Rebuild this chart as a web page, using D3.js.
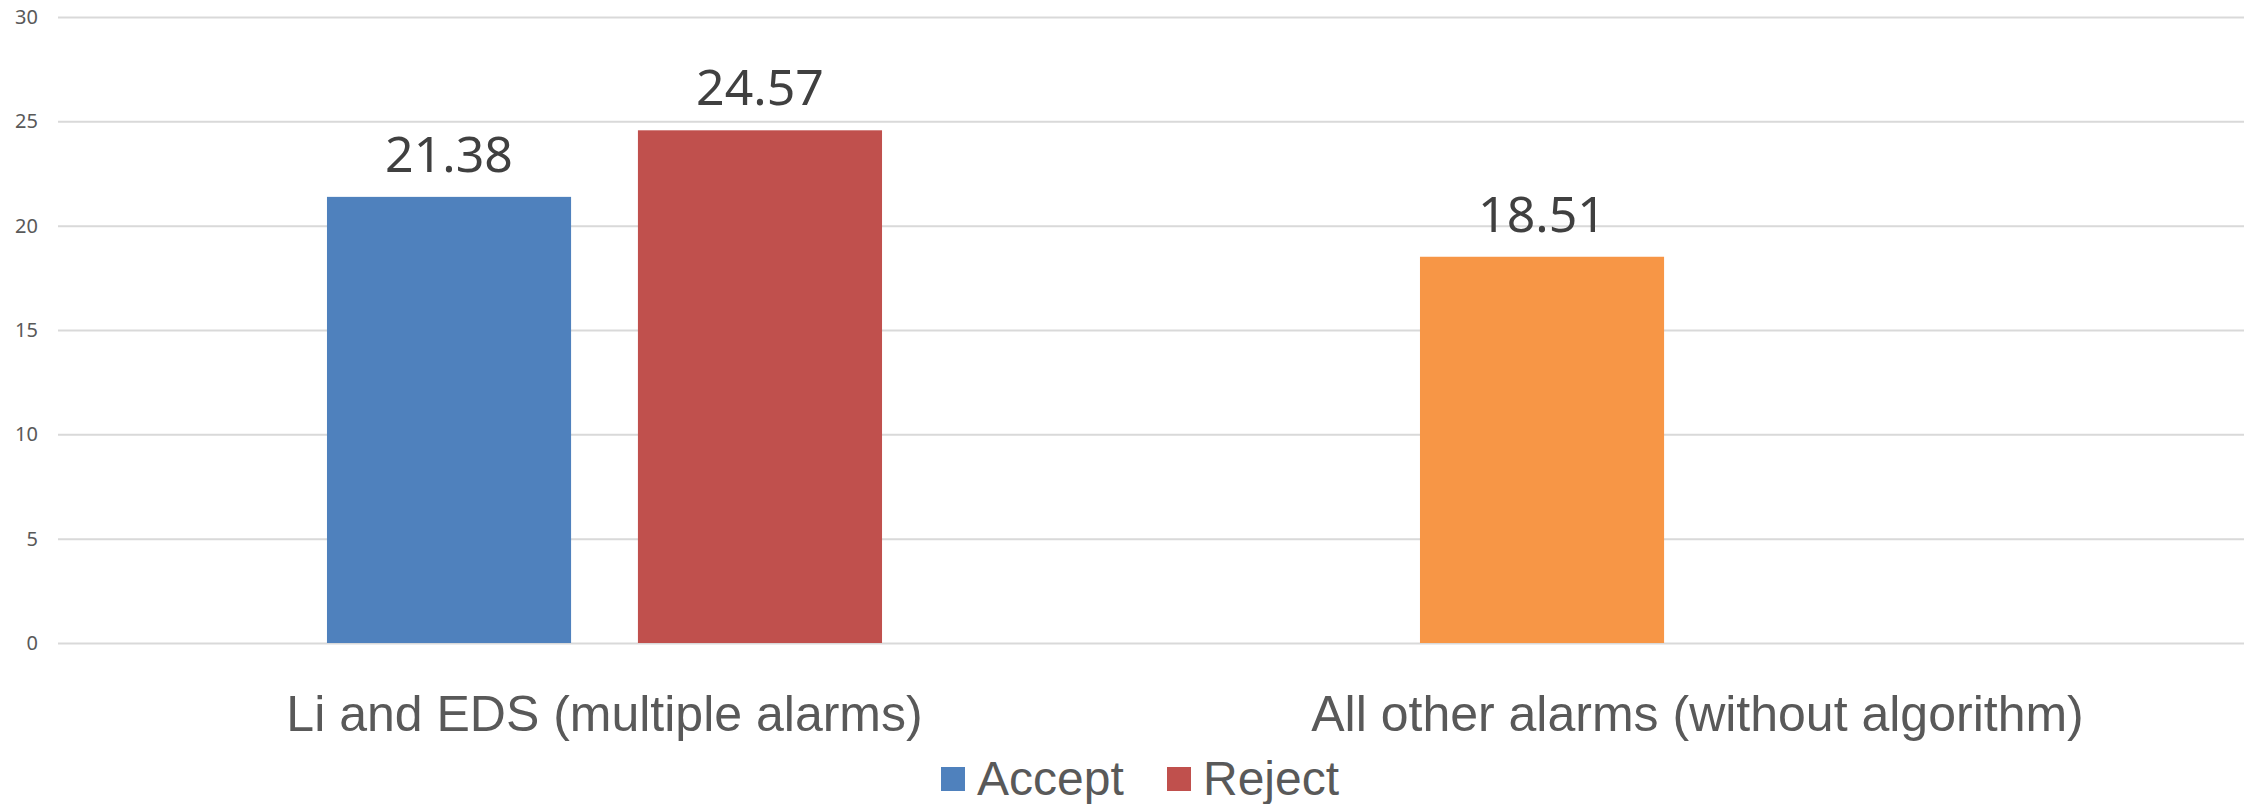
<!DOCTYPE html>
<html>
<head>
<meta charset="utf-8">
<script src="https://cdn.jsdelivr.net/npm/d3@7/dist/d3.min.js"></script>
<style>
  body { margin: 0; background: #fff; }
  svg { display: block; }
</style>
</head>
<body>
<div id="chart"></div>
<script>
// Data
const categories = ['Li and EDS (multiple alarms)', 'All other alarms (without algorithm)']
const seriesNames = ['Accept', 'Reject']
const acceptValues = [21.38, 18.51]
const rejectValues = [24.57, null]
const yTicks = [0, 5, 10, 15, 20, 25, 30]

const seriesColors = { Accept: '#4f81bd', Reject: '#c0504d' }
// the second Accept bar has its own point colour
const pointColors = { 'Accept|All other alarms (without algorithm)': '#f79646' }

const width = 2244,
  height = 804,
  margin = { top: 17, right: 0, bottom: 161, left: 58 }

const rows = categories.map((cat, i) => ({
  category: cat,
  values: [
    { series: 'Accept', value: acceptValues[i] },
    { series: 'Reject', value: rejectValues[i] }
  ].filter(d => d.value != null)
}))

const svg = d3
  .select('#chart')
  .append('svg')
  .attr('width', width)
  .attr('height', height)

const x0 = d3
  .scaleBand()
  .domain(categories)
  .range([margin.left, width - margin.right])

const x1 = d3
  .scaleBand()
  .domain(seriesNames)
  .range([0, x0.bandwidth()])
  .paddingInner(0.215)
  .paddingOuter(0.865)

const y = d3
  .scaleLinear()
  .domain([0, 30])
  .range([height - margin.bottom, margin.top])

// gridlines
svg
  .append('g')
  .attr('class', 'grid')
  .attr('transform', 'translate(' + margin.left + ',0)')
  .call(
    d3
      .axisLeft(y)
      .tickValues(yTicks)
      .tickSize(-(width - margin.left - margin.right))
      .tickFormat('')
  )
  .call(g => g.select('.domain').remove())
  .call(g => g.selectAll('line').attr('stroke', '#d9d9d9').attr('stroke-width', 2))

// y labels
svg
  .append('g')
  .selectAll('text')
  .data(yTicks)
  .enter()
  .append('text')
  .attr('x', 38)
  .attr('y', d => y(d))
  .attr('dy', '0.35em')
  .attr('text-anchor', 'end')
  .style('font-family', '"Noto Sans", sans-serif')
  .style('font-size', '20px')
  .attr('fill', '#595959')
  .text(d => d)

// bars
const groups = svg
  .append('g')
  .selectAll('g')
  .data(rows)
  .enter()
  .append('g')
  .attr('transform', d => 'translate(' + x0(d.category) + ',0)')

groups
  .selectAll('rect')
  .data(d => d.values.map(v => ({ ...v, category: d.category })))
  .enter()
  .append('rect')
  .attr('x', d => x1(d.series))
  .attr('width', x1.bandwidth())
  .attr('y', d => y(d.value))
  .attr('height', d => y(0) - y(d.value))
  .attr('fill', d => pointColors[d.series + '|' + d.category] || seriesColors[d.series])

groups
  .selectAll('text')
  .data(d => d.values)
  .enter()
  .append('text')
  .attr('x', d => x1(d.series) + x1.bandwidth() / 2)
  .attr('y', d => y(d.value) - 25)
  .attr('text-anchor', 'middle')
  .style('font-family', '"Noto Sans", sans-serif')
  .style('font-size', '50px')
  .attr('fill', '#404040')
  .text(d => d3.format('.2f')(d.value))

// category labels
svg
  .append('g')
  .selectAll('text')
  .data(categories)
  .enter()
  .append('text')
  .attr('x', d => x0(d) + x1('Accept') + x1.step() - (x1.step() - x1.bandwidth()) / 2)
  .attr('y', 731)
  .attr('text-anchor', 'middle')
  .style('font-family', '"Liberation Sans", Arial, sans-serif')
  .style('font-size', '50px')
  .attr('fill', '#595959')
  .text(d => d)

// legend
const legend = svg.append('g').attr('transform', 'translate(941,0)')
const legendX = [0, 226]

seriesNames.forEach((name, i) => {
  legend
    .append('rect')
    .attr('x', legendX[i])
    .attr('y', 767)
    .attr('width', 24)
    .attr('height', 24)
    .attr('fill', seriesColors[name])
  legend
    .append('text')
    .attr('x', legendX[i] + 36)
    .attr('y', 795)
    .style('font-family', '"Liberation Sans", Arial, sans-serif')
    .style('font-size', '48px')
    .attr('fill', '#595959')
    .text(name)
})
</script>
</body>
</html>
